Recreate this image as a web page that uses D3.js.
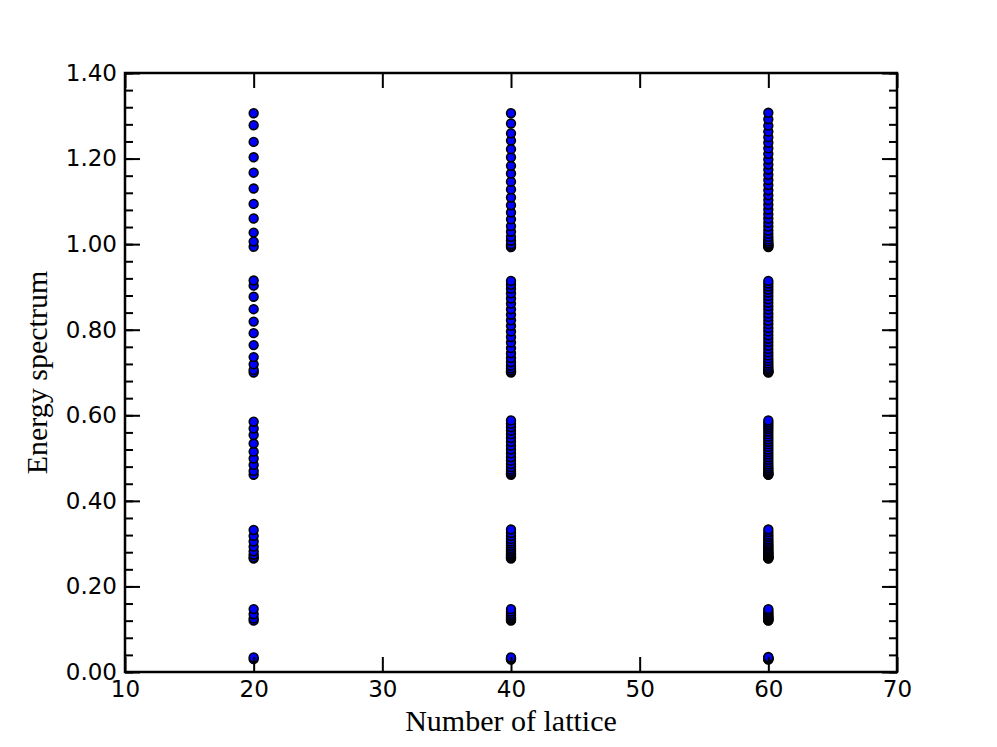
<!DOCTYPE html>
<html><head><meta charset="utf-8">
<script src="https://cdn.jsdelivr.net/npm/d3@7"></script>
<style>body{margin:0;background:#fff}svg{display:block}</style>
</head><body>
<script>
const latticeSizes = [20, 40, 60];
const energies20 = [1.306,1.278,1.239,1.203,1.167,1.130,1.094,1.060,1.027,1.006,0.994,
  0.915,0.903,0.877,0.848,0.819,0.792,0.764,0.736,0.719,0.706,0.700,
  0.585,0.569,0.554,0.534,0.515,0.499,0.484,0.470,0.461,
  0.332,0.318,0.305,0.293,0.282,0.274,0.268,0.265,
  0.147,0.135,0.125,0.120,
  0.034,0.030];
const energies40 = [1.306,1.282,1.259,1.242,1.222,1.203,1.183,1.165,1.146,1.128,1.109,1.091,1.074,1.058,1.042,1.029,1.017,1.008,1.000,0.996,0.993,
  0.914,0.905,0.896,0.885,0.873,0.861,0.848,0.835,0.822,0.809,0.796,0.783,0.770,0.757,0.745,0.734,0.724,0.716,0.710,0.705,0.702,0.700,
  0.588,0.580,0.572,0.564,0.556,0.547,0.538,0.529,0.520,0.511,0.502,0.494,0.486,0.479,0.473,0.468,0.464,0.461,
  0.333,0.325,0.318,0.311,0.305,0.300,0.295,0.290,0.286,0.282,0.278,0.275,0.272,0.269,0.267,0.265,
  0.147,0.141,0.136,0.132,0.128,0.125,0.122,0.120,
  0.034,0.032,0.030,0.029];
const energies60 = [1.307,1.292,1.277,1.263,1.250,1.237,1.224,1.211,1.198,1.186,1.174,1.162,1.150,1.138,1.126,1.114,1.103,1.092,1.081,1.070,1.060,1.050,1.041,1.032,1.024,1.017,1.011,1.006,1.002,0.999,0.997,0.995,0.993,
  0.914,0.908,0.901,0.894,0.887,0.879,0.871,0.863,0.855,0.847,0.838,0.830,0.821,0.813,0.804,0.796,0.787,0.779,0.771,0.763,0.755,0.747,0.740,0.733,0.727,0.721,0.716,0.711,0.707,0.704,0.702,0.701,0.700,
  0.588,0.583,0.578,0.573,0.568,0.562,0.556,0.550,0.544,0.538,0.532,0.526,0.520,0.514,0.508,0.502,0.496,0.490,0.485,0.480,0.476,0.472,0.468,0.465,0.463,0.462,0.461,
  0.333,0.327,0.321,0.316,0.311,0.307,0.303,0.299,0.296,0.293,0.290,0.287,0.284,0.281,0.279,0.277,0.275,0.273,0.271,0.269,0.268,0.267,0.266,0.265,
  0.147,0.143,0.139,0.136,0.133,0.130,0.128,0.126,0.124,0.122,0.121,0.120,
  0.035,0.033,0.032,0.031,0.030,0.029];
const xTicks = [10, 20, 30, 40, 50, 60, 70];
const yTicks = [0.00, 0.20, 0.40, 0.60, 0.80, 1.00, 1.20, 1.40];
const yMinorTicks = d3.range(0, 1.4001, 0.04);
const xLabel = "Number of lattice";
const yLabel = "Energy spectrum";

const W = 997, H = 747;
const m = {left:125, right:897, top:73, bottom:672};
const svg = d3.select("body").append("svg").attr("width", W).attr("height", H);
const x = d3.scaleLinear().domain([10, 70]).range([m.left, m.right]);
const y = d3.scaleLinear().domain([0, 1.4]).range([m.bottom, m.top]);

const points = [];
[energies20, energies40, energies60].forEach((arr, i) => {
  arr.forEach(e => points.push({n: latticeSizes[i], e}));
});
points.sort((a, b) => a.e - b.e);

svg.append("g").selectAll("circle").data(points).join("circle")
  .attr("cx", d => x(d.n)).attr("cy", d => y(d.e)).attr("r", 4.4)
  .attr("fill", "#0000ff").attr("stroke", "#000").attr("stroke-width", 1.6);

function styleAxis(g){
  g.select(".domain").remove();
  g.selectAll(".tick line").attr("stroke", "#000").attr("stroke-width", 2);
  g.selectAll(".tick text").attr("font-family", "DejaVu Sans").attr("font-size", 23).attr("fill", "#000");
}
// bottom
svg.append("g").attr("transform", `translate(0,${m.bottom})`)
  .call(d3.axisBottom(x).tickValues(xTicks).tickFormat(d3.format("d")).tickSizeInner(-15).tickSizeOuter(0).tickPadding(10))
  .call(styleAxis).call(g => g.selectAll(".tick text").attr("dy", "0.71em").attr("y", 9));
// top
svg.append("g").attr("transform", `translate(0,${m.top})`)
  .call(d3.axisTop(x).tickValues(xTicks).tickFormat("").tickSizeInner(-15).tickSizeOuter(0))
  .call(styleAxis);
// left minor
svg.append("g").attr("transform", `translate(${m.left},0)`)
  .call(d3.axisLeft(y).tickValues(yMinorTicks).tickFormat("").tickSizeInner(-8).tickSizeOuter(0))
  .call(styleAxis);
// right minor
svg.append("g").attr("transform", `translate(${m.right},0)`)
  .call(d3.axisRight(y).tickValues(yMinorTicks).tickFormat("").tickSizeInner(-8).tickSizeOuter(0))
  .call(styleAxis);
// left major
svg.append("g").attr("transform", `translate(${m.left},0)`)
  .call(d3.axisLeft(y).tickValues(yTicks).tickFormat(d3.format(".2f")).tickSizeInner(-15).tickSizeOuter(0).tickPadding(8))
  .call(styleAxis).call(g => g.selectAll(".tick text").attr("x", -8));
// right major
svg.append("g").attr("transform", `translate(${m.right},0)`)
  .call(d3.axisRight(y).tickValues(yTicks).tickFormat("").tickSizeInner(-15).tickSizeOuter(0))
  .call(styleAxis);

// frame
svg.append("rect").attr("x", m.left).attr("y", m.top)
  .attr("width", m.right - m.left).attr("height", m.bottom - m.top)
  .attr("fill", "none").attr("stroke", "#000").attr("stroke-width", 2.5);

svg.append("text").attr("x", (m.left + m.right) / 2).attr("y", 731)
  .attr("text-anchor", "middle").attr("font-family", "Liberation Serif").attr("font-size", 30)
  .text(xLabel);
svg.append("text").attr("transform", `translate(47,${(m.top + m.bottom) / 2}) rotate(-90)`)
  .attr("text-anchor", "middle").attr("font-family", "Liberation Serif").attr("font-size", 30)
  .text(yLabel);
</script>
</body></html>
